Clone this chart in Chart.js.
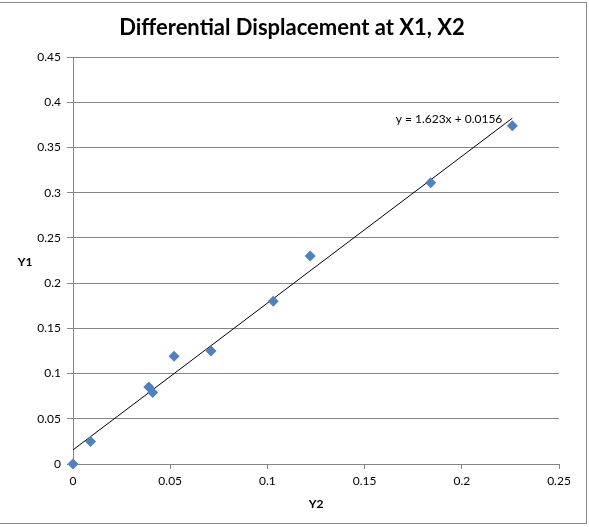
<!DOCTYPE html>
<html>
<head>
<meta charset="utf-8">
<script src="https://cdn.jsdelivr.net/npm/chart.js@4/dist/chart.umd.min.js"></script>
<style>
  html, body { margin: 0; padding: 0; background: #fff; }
  #wrap { position: absolute; left: 0; top: 0; width: 589px; height: 527px; }
  #frame { position: absolute; left: 0; top: 2px; width: 586px; height: 520px; border: 1px solid #888; border-left: none; pointer-events: none; }
</style>
</head>
<body>
<div id="wrap">
  <canvas id="c" width="589" height="527"></canvas>
  <div id="frame"></div>
</div>
<script>
// Data
const chartTitle = "Differential Displacement at X1, X2";
const xAxisTitle = "Y2";
const yAxisTitle = "Y1";
const y2Values = [0, 0.009, 0.039, 0.041, 0.052, 0.071, 0.103, 0.122, 0.184, 0.226];
const y1Values = [0, 0.025, 0.085, 0.079, 0.119, 0.125, 0.180, 0.230, 0.311, 0.374];
const trendX = [0, 0.226];
const trendY = [0.0156, 0.3824];
const trendLabel = "y = 1.623x + 0.0156";
const xTicks = [0, 0.05, 0.1, 0.15, 0.2, 0.25];
const yTicks = [0, 0.05, 0.1, 0.15, 0.2, 0.25, 0.3, 0.35, 0.4, 0.45];

const FONT = "Lato, 'Open Sans', sans-serif";
const GRID = "#868686";

const points = y2Values.map((x, i) => ({ x: x, y: y1Values[i] }));
const trend = trendX.map((x, i) => ({ x: x, y: trendY[i] }));

const extraText = {
  id: 'extraText',
  afterDraw(chart) {
    const { ctx, scales: { x, y }, chartArea } = chart;
    ctx.save();
    ctx.fillStyle = '#000';
    ctx.textAlign = 'center';
    ctx.textBaseline = 'middle';
    ctx.font = "bold 22px " + FONT;
    ctx.fillText(chartTitle, 292, 28);
    ctx.font = "bold 12px " + FONT;
    ctx.fillText(yAxisTitle, 25, (chartArea.top + chartArea.bottom) / 2 + 2);
    ctx.font = "12px " + FONT;
    ctx.fillText(trendLabel, x.getPixelForValue(0.1934), y.getPixelForValue(0.3816));
    ctx.restore();
  }
};

new Chart(document.getElementById('c'), {
  type: 'scatter',
  data: {
    datasets: [
      {
        label: 'Y1',
        data: points,
        pointStyle: 'rectRot',
        pointRadius: 5.5,
        pointHoverRadius: 5.5,
        backgroundColor: '#4F81BD',
        borderColor: '#4F81BD',
        borderWidth: 0,
        clip: false,
        order: 0
      },
      {
        type: 'line',
        label: 'Trend',
        data: trend,
        borderColor: '#000',
        borderWidth: 1,
        pointRadius: 0,
        fill: false,
        order: 1
      }
    ]
  },
  plugins: [extraText],
  options: {
    responsive: false,
    animation: false,
    devicePixelRatio: 1,
    layout: { padding: { left: 0, right: 30, top: 57, bottom: 0 } },
    plugins: {
      legend: { display: false },
      tooltip: { enabled: false },
      title: { display: false }
    },
    scales: {
      x: {
        type: 'linear',
        min: 0, max: 0.25,
        afterBuildTicks(s) { s.ticks = xTicks.map(v => ({ value: v })); },
        afterFit(s) { s.height = 63; },
        ticks: {
          color: '#000',
          font: { family: FONT, size: 12 },
          padding: 5,
          maxRotation: 0,
          callback: v => String(v)
        },
        grid: { drawOnChartArea: false, color: GRID, tickLength: 5 },
        border: { color: GRID, width: 1 },
        title: {
          display: true, text: xAxisTitle, color: '#000',
          font: { family: FONT, size: 12, weight: 'bold' },
          padding: { top: 0, bottom: 16 }
        }
      },
      y: {
        type: 'linear',
        min: 0, max: 0.45,
        afterBuildTicks(s) { s.ticks = yTicks.map(v => ({ value: v })); },
        afterFit(s) { s.width = 73; },
        ticks: {
          color: '#000',
          font: { family: FONT, size: 12 },
          padding: 6,
          callback: v => String(v)
        },
        grid: { color: GRID, tickLength: 6 },
        border: { color: GRID, width: 1 }
      }
    }
  }
});
</script>
</body>
</html>
